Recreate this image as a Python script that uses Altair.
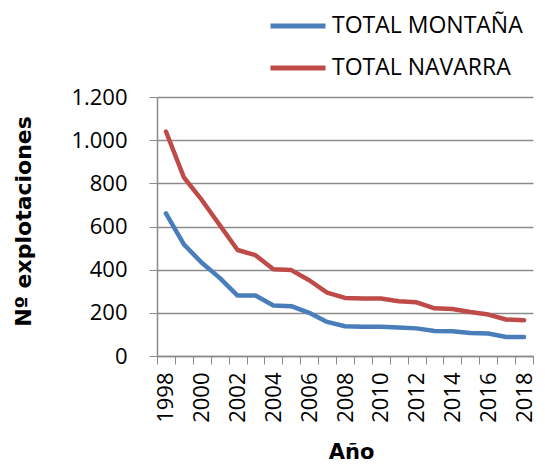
import altair as alt
import pandas as pd

years = list(range(1998, 2019))
montana = [661, 517, 432, 362, 280, 280, 234, 231, 200, 158, 138, 135, 135, 132, 128, 116, 115, 107, 104, 88, 88]
navarra = [1040, 828, 723, 607, 491, 467, 402, 398, 351, 294, 269, 266, 266, 254, 249, 221, 218, 204, 192, 169, 166]
series = ["TOTAL MONTAÑA", "TOTAL NAVARRA"]
colors = ["#4A7EBB", "#BE4B48"]

rows = []
for y, m, n in zip(years, montana, navarra):
    rows.append({"Año": str(y), "serie": series[0], "valor": m})
    rows.append({"Año": str(y), "serie": series[1], "valor": n})
df = pd.DataFrame(rows)

FONT = "Open Sans"
TFONT = "DejaVu Sans"

chart = alt.Chart(df).mark_line(strokeWidth=4.5, strokeCap="round", strokeJoin="round").encode(
    x=alt.X(
        "Año:O",
        bandPosition=0.5,
        scale=alt.Scale(type="band", paddingInner=0, paddingOuter=0),
        axis=alt.Axis(
            title="Año",
            tickBand="extent",
            labelAngle=-90,
            labelAlign="right",
            labelBaseline="middle",
            labelExpr="parseInt(datum.value) % 2 == 0 ? datum.value : ''",
            labelFontSize=22,
            labelFont=FONT,
            labelColor="#000000",
            labelPadding=8,
            tickSize=8,
            tickColor="#8C8C8C",
            domainColor="#8C8C8C",
            domainWidth=1.5,
            grid=False,
            titleFont=TFONT,
            titleFontSize=21,
            titleFontWeight="bold",
            titleColor="#000000",
            titleBaseline="alphabetic",
            titleY=102,
            titleX=194,
            titleAlign="center",
        ),
    ),
    y=alt.Y(
        "valor:Q",
        scale=alt.Scale(domain=[0, 1200], nice=False),
        axis=alt.Axis(
            title="Nº explotaciones",
            values=[0, 200, 400, 600, 800, 1000, 1200],
            labelExpr="replace(format(datum.value, ','), ',', '.')",
            labelFontSize=22,
            labelFont=FONT,
            labelColor="#000000",
            labelPadding=22,
            tickSize=8,
            tickColor="#8C8C8C",
            domainColor="#8C8C8C",
            domainWidth=1.5,
            gridColor="#8C8C8C",
            gridWidth=1.5,
            titleFont=TFONT,
            titleFontSize=22,
            titleFontWeight="bold",
            titleColor="#000000",
            titleAngle=-90,
            titleX=-134,
            titleY=124,
            titleAlign="center",
            titleBaseline="middle",
        ),
    ),
    color=alt.Color(
        "serie:N",
        scale=alt.Scale(domain=series, range=colors),
        legend=alt.Legend(
            title=None,
            orient="none",
            legendX=111,
            legendY=-101,
            symbolType="stroke",
            symbolSize=3025,
            symbolStrokeWidth=5,
            labelFont=FONT,
            labelFontSize=23,
            labelColor="#000000",
            labelOffset=4,
            labelLimit=0,
            rowPadding=-24,
            padding=0,
        ),
    ),
).properties(
    width=376,
    height=259,
    padding={"left": 149, "top": 89, "right": 4, "bottom": 106},
    autosize=alt.AutoSizeParams(type="none"),
).configure_view(stroke=None)

chart.save("out.html", embed_options={"renderer": "svg", "actions": False})
